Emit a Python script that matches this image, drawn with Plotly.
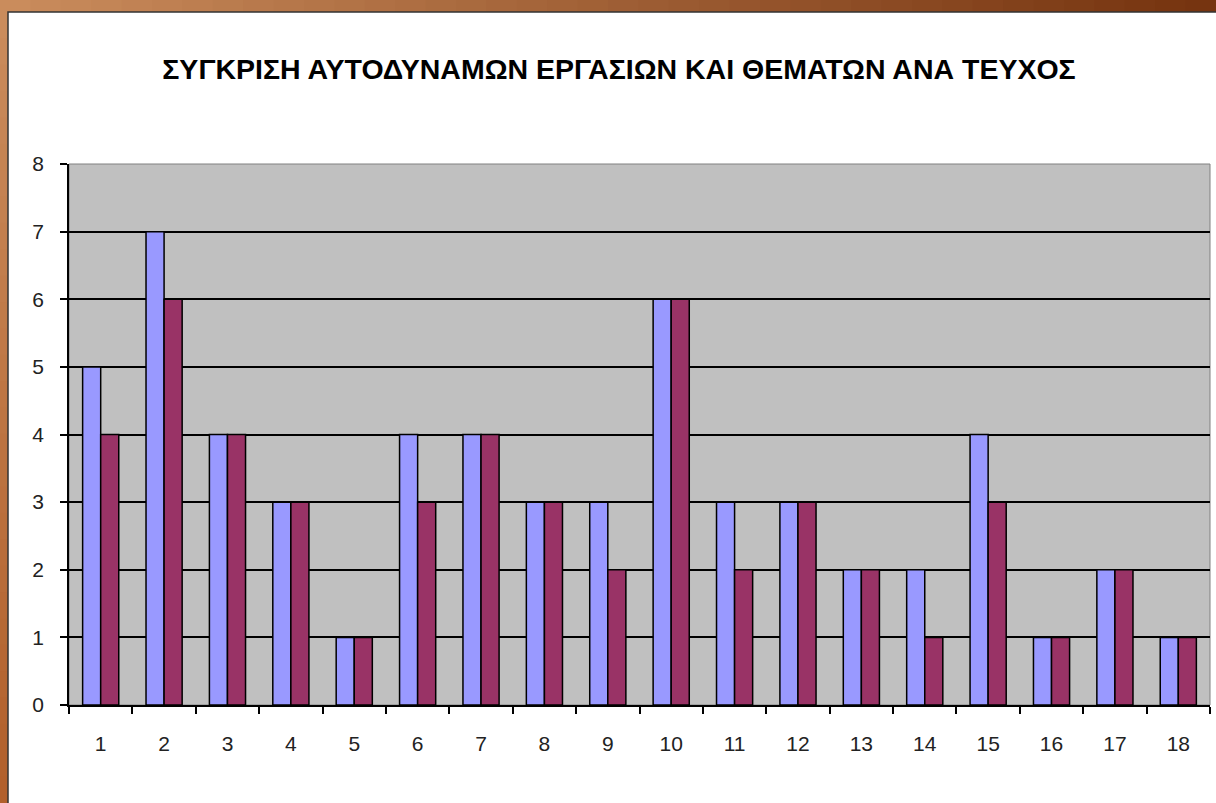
import plotly.graph_objects as go

categories = [str(i) for i in range(1, 19)]
series_a = [5, 7, 4, 3, 1, 4, 4, 3, 3, 6, 3, 3, 2, 2, 4, 1, 2, 1]
series_b = [4, 6, 4, 3, 1, 3, 4, 3, 2, 6, 2, 3, 2, 1, 3, 1, 2, 1]
title_text = "ΣΥΓΚΡΙΣΗ ΑΥΤΟΔΥΝΑΜΩΝ ΕΡΓΑΣΙΩΝ ΚΑΙ ΘΕΜΑΤΩΝ ΑΝΑ ΤΕΥΧΟΣ"

W, H = 1216, 803
ML, MR, MT, MB = 69, 6, 164, 98

fig = go.Figure()
fig.add_trace(go.Bar(x=categories, y=series_a, name="Αυτοδύναμες εργασίες",
                     marker=dict(color="#9999FF", line=dict(color="#000000", width=1.5))))
fig.add_trace(go.Bar(x=categories, y=series_b, name="Θέματα",
                     marker=dict(color="#993366", line=dict(color="#000000", width=1.5))))

px = lambda v: (v - ML) / (W - ML - MR)
py = lambda v: (H - MB - v) / (H - MT - MB)

shapes = []
# top gradient strip (tan -> dark brown)
n = 40
c0 = (202, 140, 92)
c1 = (118, 52, 16)
for i in range(n):
    t = i / (n - 1)
    col = "rgb(%d,%d,%d)" % tuple(int(c0[k] + (c1[k] - c0[k]) * t) for k in range(3))
    x0 = (i / n) * W
    x1 = ((i + 1) / n) * W + 1
    shapes.append(dict(type="rect", xref="paper", yref="paper",
                       x0=px(x0), x1=px(x1), y0=py(14), y1=py(-2),
                       fillcolor=col, line=dict(width=0), layer="below"))
# left gradient strip
m = 30
l0 = (202, 140, 92)
l1 = (178, 96, 44)
for i in range(m):
    t = i / (m - 1)
    col = "rgb(%d,%d,%d)" % tuple(int(l0[k] + (l1[k] - l0[k]) * t) for k in range(3))
    y0 = 12 + (i / m) * (H - 12)
    y1 = 12 + ((i + 1) / m) * (H - 12) + 1
    shapes.append(dict(type="rect", xref="paper", yref="paper",
                       x0=px(-2), x1=px(9), y0=py(y1), y1=py(y0),
                       fillcolor=col, line=dict(width=0), layer="below"))
# white panel
shapes.append(dict(type="rect", xref="paper", yref="paper",
                   x0=px(8), x1=px(1222), y0=py(812), y1=py(12),
                   fillcolor="#FFFFFF", line=dict(color="#333333", width=1.5), layer="below"))
# grey plot area
shapes.append(dict(type="rect", xref="paper", yref="paper",
                   x0=0, x1=1, y0=0, y1=1,
                   fillcolor="#C0C0C0", line=dict(color="#808080", width=1), layer="below"))

FONT = "Liberation Sans Narrow, Arial Narrow, Liberation Sans, Arial"

fig.update_layout(
    width=W, height=H,
    margin=dict(l=ML, r=MR, t=MT, b=MB),
    paper_bgcolor="#BE7440",
    plot_bgcolor="#C0C0C0",
    barmode="group",
    bargap=0.43,
    bargroupgap=0,
    showlegend=False,
    shapes=shapes,
    title=dict(text=title_text, x=619 / W, xref="container", y=1 - 69 / H, yref="container",
               yanchor="middle", xanchor="center",
               font=dict(family=FONT, size=28.5, color="#000000", weight="bold")),
    font=dict(family=FONT, size=21, color="#000000"),
)
fig.update_xaxes(type="category", showline=True, linecolor="#000000", linewidth=1.5,
                 ticks="outside", tickson="boundaries", ticklen=7, tickcolor="#000000",
                 tickwidth=1.5, showgrid=False, mirror=False, tickfont=dict(size=21, color="#222222"),
                 ticklabelstandoff=19)
fig.update_yaxes(range=[0, 8], dtick=1, showline=True, linecolor="#000000", linewidth=1.5,
                 ticks="outside", ticklen=7, tickcolor="#000000", tickwidth=1.5,
                 showgrid=True, gridcolor="#000000", gridwidth=1.5, zeroline=False,
                 tickfont=dict(size=21, color="#222222"), ticklabelstandoff=12)

fig.write_html("out.html", config={"displayModeBar": False},
               post_script="document.body.style.margin='0';document.body.style.overflow='hidden';")
